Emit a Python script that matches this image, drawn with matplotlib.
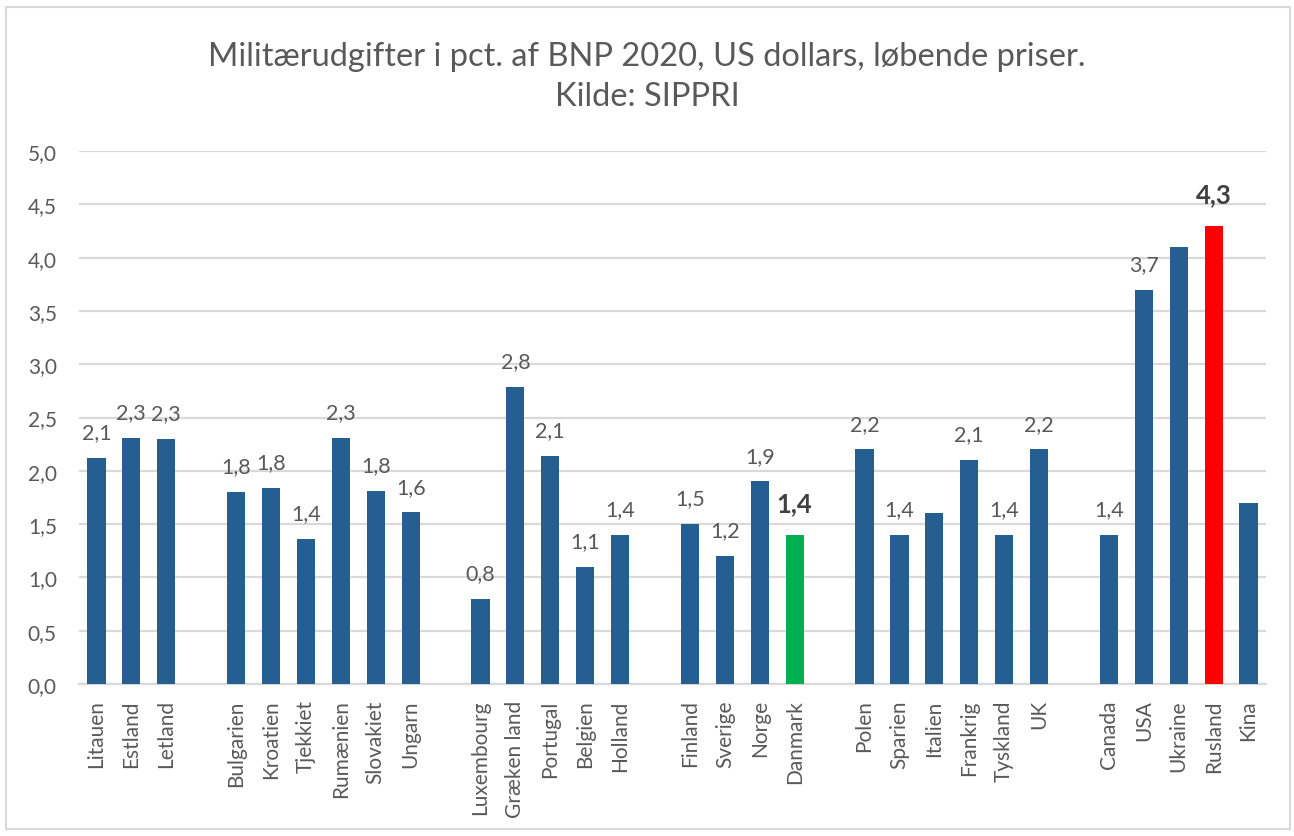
import matplotlib
matplotlib.use("Agg")
import matplotlib.pyplot as plt
import matplotlib.patches as mpatches
import numpy as np

plt.rcParams['font.family'] = ['Lato', 'DejaVu Sans']

# Data ("" = empty spacer slot between groups)
categories = ["Litauen", "Estland", "Letland", "",
              "Bulgarien", "Kroatien", "Tjekkiet", "Rumænien", "Slovakiet", "Ungarn", "",
              "Luxembourg", "Græken land", "Portugal", "Belgien", "Holland", "",
              "Finland", "Sverige", "Norge", "Danmark", "",
              "Polen", "Sparien", "Italien", "Frankrig", "Tyskland", "UK", "",
              "Canada", "USA", "Ukraine", "Rusland", "Kina"]
values = [2.12, 2.31, 2.30, None,
          1.80, 1.84, 1.36, 2.31, 1.81, 1.61, None,
          0.80, 2.79, 2.14, 1.10, 1.40, None,
          1.50, 1.20, 1.90, 1.40, None,
          2.20, 1.40, 1.60, 2.10, 1.40, 2.20, None,
          1.40, 3.70, 4.10, 4.30, 1.70]
show_label = [True, True, True, None,
              True, True, True, True, True, True, None,
              True, True, True, True, True, None,
              True, True, True, True, None,
              True, True, False, True, True, True, None,
              True, True, False, True, False]
highlight = {"Danmark": "#00B050", "Rusland": "#FF0000"}
title = "Militærudgifter i pct. af BNP 2020, US dollars, løbende priser.\nKilde: SIPPRI"

BLUE = "#255E91"
TXT = "#595959"

fig = plt.figure(figsize=(12.94, 8.37), dpi=100)
ax = fig.add_axes([79/1294, 1-685/837, (1266-79)/1294, (685-152)/837])

x = np.arange(len(categories)) + 0.5
for xi, cat, v, sl in zip(x, categories, values, show_label):
    if v is None:
        continue
    col = highlight.get(cat, BLUE)
    ax.bar(xi, v, width=0.52, color=col, zorder=3)
    if sl:
        lab = f"{v:.1f}".replace(".", ",")
        if cat in highlight:
            ax.annotate(lab, (xi, v), xytext=(0, 23), textcoords="offset points",
                        ha="center", va="center", fontsize=18.5, fontweight="bold",
                        color="#404040")
        else:
            ax.annotate(lab, (xi, v), xytext=(0, 18.5), textcoords="offset points",
                        ha="center", va="center", fontsize=15.5, color=TXT)

ax.set_xlim(0, len(categories))
ax.set_ylim(0, 5)
ax.set_yticks(np.arange(0, 5.01, 0.5))
ax.set_yticklabels([f"{t:.1f}".replace(".", ",") for t in np.arange(0, 5.01, 0.5)],
                   fontsize=15, color=TXT)
ax.set_xticks(x)
ax.set_xticklabels(categories, rotation=90, fontsize=15, color=TXT)
ax.tick_params(axis='both', length=0)
ax.tick_params(axis='x', pad=11)
ax.tick_params(axis='y', pad=16)
ax.grid(axis='y', color="#D9D9D9", linewidth=1.6, zorder=0)
for s in ["top", "right", "left"]:
    ax.spines[s].set_visible(False)
ax.spines["bottom"].set_color("#D9D9D9")
ax.spines["bottom"].set_linewidth(1.6)

fig.text(0.5, 1-77/837, title, ha="center", va="center", fontsize=23.5,
         color=TXT, linespacing=1.4)

fig.patches.append(mpatches.Rectangle((6/1294, 7/837), 1284/1294, 822/837,
                                      transform=fig.transFigure, fill=False,
                                      edgecolor="#D9D9D9", linewidth=1.5))

fig.savefig("out.png", dpi=100, facecolor="white")
